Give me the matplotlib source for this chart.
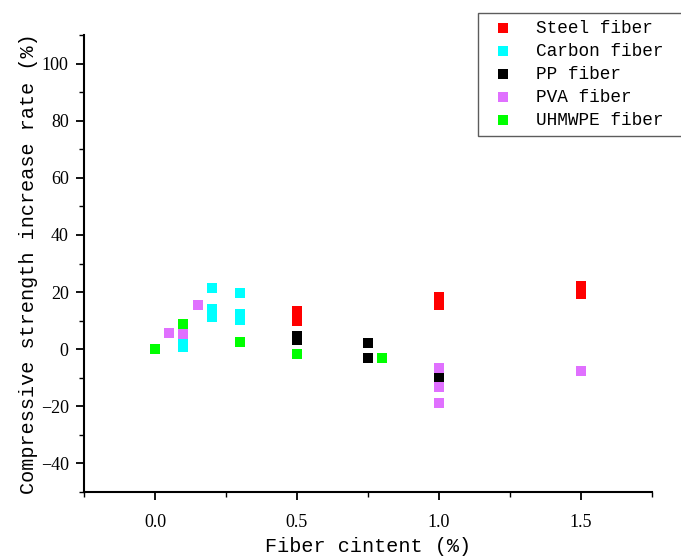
import matplotlib
matplotlib.use("Agg")
import matplotlib.pyplot as plt
from matplotlib.ticker import MultipleLocator

plt.rcParams['font.family'] = ['Liberation Mono', 'DejaVu Sans']

series_names = ["Steel fiber", "Carbon fiber", "PP fiber", "PVA fiber", "UHMWPE fiber"]
colors = ["#ff0000", "#00ffff", "#000000", "#e070ff", "#00ff00"]

steel_x = [0.5, 0.5, 0.5, 1.0, 1.0, 1.5, 1.5]
steel_y = [13.2, 11.5, 10.0, 18.2, 15.6, 22.0, 19.2]

carbon_x = [0.1, 0.1, 0.2, 0.2, 0.2, 0.3, 0.3, 0.3]
carbon_y = [1.8, 0.8, 21.5, 14.0, 11.3, 19.5, 12.2, 10.2]

pp_x = [0.5, 0.5, 0.75, 0.75, 1.0]
pp_y = [4.6, 3.2, 2.2, -3.0, -9.9]

pva_x = [0.05, 0.1, 0.15, 1.0, 1.0, 1.0, 1.5]
pva_y = [5.6, 5.2, 15.4, -6.6, -13.2, -18.8, -7.8]

uhmwpe_x = [0.0, 0.1, 0.3, 0.5, 0.8]
uhmwpe_y = [0.0, 8.8, 2.6, -1.6, -3.0]

x_ticks = [0.0, 0.5, 1.0, 1.5]
x_ticklabels = ["0.0", "0.5", "1.0", "1.5"]

xs = [steel_x, carbon_x, pp_x, pva_x, uhmwpe_x]
ys = [steel_y, carbon_y, pp_y, pva_y, uhmwpe_y]

fig = plt.figure(figsize=(6.81, 5.58), dpi=100)
ax = fig.add_axes([84/681, 1-492/558, (652-84)/681, (492-35)/558])

for x, y, c, n in zip(xs, ys, colors, series_names):
    ax.scatter(x, y, s=52, marker='s', color=c, edgecolors='none', label=n, zorder=3)

ax.set_xlim(-0.25, 1.75)
ax.set_ylim(-50, 110)
ax.xaxis.set_minor_locator(MultipleLocator(0.25))
ax.yaxis.set_major_locator(MultipleLocator(20))
ax.yaxis.set_minor_locator(MultipleLocator(10))
ax.set_xticks(x_ticks)
ax.set_xticklabels(x_ticklabels)

for s in ['top', 'right']:
    ax.spines[s].set_visible(False)
for s in ['left', 'bottom']:
    ax.spines[s].set_linewidth(1.5)

ax.tick_params(which='major', direction='out', length=6, width=1.3, pad=5, colors='black')
ax.tick_params(which='minor', direction='out', length=3.5, width=1.0)
ax.tick_params(axis='x', pad=10)
for lab in ax.get_xticklabels() + ax.get_yticklabels():
    lab.set_fontfamily(['Liberation Serif', 'DejaVu Serif'])
    lab.set_fontsize(13)

ax.set_xlabel("Fiber cintent (%)", fontsize=14.5, labelpad=4.5)
ax.set_ylabel("Compressive strength increase rate (%)", fontsize=14.5, labelpad=2)

leg = fig.legend(loc='upper left', bbox_to_anchor=(478/681, 1-135/558, 204/681, 122/558),
                 mode='expand',
                 fontsize=12.8, frameon=True, fancybox=False, edgecolor='#333333',
                 handletextpad=0.87, labelspacing=0.33, borderpad=0.4,
                 handlelength=2.0, markerscale=1.0, borderaxespad=0)
leg.get_frame().set_linewidth(1.0)

fig.savefig("out.png", dpi=100)
